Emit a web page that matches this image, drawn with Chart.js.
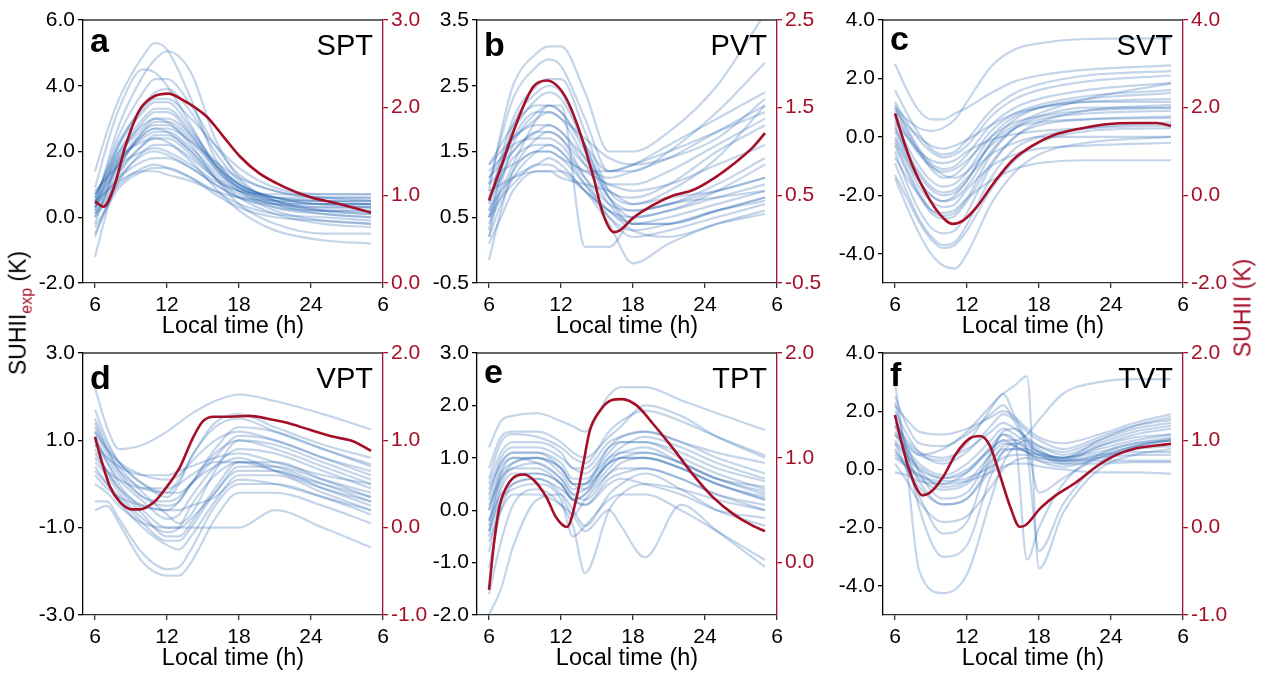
<!DOCTYPE html>
<html>
<head>
<meta charset="utf-8">
<script src="https://cdn.jsdelivr.net/npm/chart.js@4.4.1/dist/chart.umd.min.js"></script>
<style>
  body { margin: 0; background: #fff; width: 1262px; height: 678px; position: relative; overflow: hidden;
         font-family: "Liberation Sans", Arial, sans-serif; }
  .panel { position: absolute; width: 430px; }
  .row-1 { top: 0; height: 343px; }
  .row-2 { top: 333px; height: 342px; }
  .col-1 { left: 13px; }
  .col-2 { left: 407px; }
  .col-3 { left: 813px; }
  .ylab { position: absolute; white-space: nowrap; font-size: 23px; transform: translate(-50%, -50%) rotate(-90deg); }
  .ylab sub { font-size: 16px; color: #a50f28; }
</style>
</head>
<body>
<div class="panel row-1 col-1"><canvas id="chart-a"></canvas></div>
<div class="panel row-1 col-2"><canvas id="chart-b"></canvas></div>
<div class="panel row-1 col-3"><canvas id="chart-c"></canvas></div>
<div class="panel row-2 col-1"><canvas id="chart-d"></canvas></div>
<div class="panel row-2 col-2"><canvas id="chart-e"></canvas></div>
<div class="panel row-2 col-3"><canvas id="chart-f"></canvas></div>
<div class="ylab" style="left:20px; top:313px;">SUHII<sub>exp</sub> (K)</div>
<div class="ylab" style="left:1243px; top:308px; color:#a50f28;">SUHII (K)</div>

<script>
// Common x axis (local time, wraps to 6 the next morning)
const X_TICKS = [6, 12, 18, 24, 30];
const X_TICK_LABELS = ['6', '12', '18', '24', '6'];

// a - SPT
const SPT_HOURS = [6, 7, 8, 10, 11, 12, 14, 16, 18, 21, 25, 29];
const SPT_SITES = [
  [1.4, 2.6, 3.6, 4.9, 5.3, 5.1, 3.6, 1.8, 1.0, 0.4, 0.1, 0.0],
  [0.3, 1.6, 2.8, 4.3, 4.8, 5.05, 4.4, 2.4, 1.2, 0.5, 0.2, 0.1],
  [0.9, 2.2, 3.3, 4.5, 4.4, 4.0, 2.8, 1.6, 1.0, 0.6, 0.4, 0.4],
  [0.5, 1.5, 2.5, 3.8, 4.2, 4.2, 3.4, 2.2, 1.3, 0.8, 0.6, 0.6],
  [0.2, 1.2, 2.2, 3.4, 3.8, 3.9, 3.2, 2.0, 1.1, 0.5, 0.2, 0.1],
  [0.6, 1.4, 2.2, 3.2, 3.5, 3.5, 2.7, 1.6, 0.9, 0.5, 0.3, 0.3],
  [-0.2, 0.8, 1.8, 2.9, 3.2, 3.2, 2.5, 1.5, 0.8, 0.2, -0.1, -0.2],
  [0.7, 1.3, 2.0, 2.8, 3.0, 2.9, 2.3, 1.5, 0.9, 0.6, 0.5, 0.5],
  [-1.2, 0.2, 1.4, 2.6, 2.8, 2.8, 2.2, 1.2, 0.4, -0.2, -0.5, -0.5],
  [0.4, 1.0, 1.7, 2.4, 2.6, 2.6, 2.1, 1.4, 0.9, 0.6, 0.6, 0.6],
  [0.1, 0.7, 1.4, 2.2, 2.4, 2.4, 1.9, 1.2, 0.7, 0.4, 0.3, 0.3],
  [-0.5, 0.3, 1.1, 2.0, 2.2, 2.2, 1.7, 0.9, 0.2, -0.4, -0.7, -0.8],
  [0.8, 1.2, 1.6, 2.0, 2.1, 2.0, 1.6, 1.1, 0.8, 0.7, 0.7, 0.7],
  [0.3, 0.8, 1.2, 1.7, 1.8, 1.8, 1.5, 1.0, 0.6, 0.4, 0.4, 0.4],
  [-0.3, 0.3, 0.9, 1.4, 1.5, 1.5, 1.2, 0.7, 0.3, 0.0, -0.1, -0.2],
  [0.5, 0.8, 1.1, 1.4, 1.4, 1.3, 1.1, 0.8, 0.6, 0.5, 0.5, 0.5],
  [0.0, 0.5, 1.0, 1.5, 1.6, 1.5, 1.2, 0.8, 0.4, 0.1, 0.0, -0.1],
  [0.6, 1.4, 2.3, 3.3, 3.6, 3.6, 3.0, 2.2, 1.5, 0.9, 0.7, 0.7],
  [0.2, 0.9, 1.6, 2.5, 2.7, 2.7, 2.3, 1.7, 1.2, 0.8, 0.6, 0.5],
  [0.5, 1.1, 1.9, 2.7, 3.0, 3.0, 2.5, 1.6, 0.9, 0.3, 0.1, 0.0],
  [0.4, 1.2, 2.0, 3.0, 3.3, 3.3, 2.6, 1.7, 1.0, 0.6, 0.4, 0.4],
  [0.0, 0.8, 1.6, 2.5, 2.7, 2.6, 2.0, 1.3, 0.8, 0.4, 0.2, 0.2],
  [0.7, 1.2, 1.8, 2.3, 2.4, 2.3, 1.8, 1.2, 0.8, 0.5, 0.4, 0.3],
  [-0.6, 0.4, 1.3, 2.2, 2.5, 2.5, 2.0, 1.2, 0.6, 0.1, -0.2, -0.3],
  [0.3, 1.0, 1.7, 2.6, 2.9, 2.9, 2.4, 1.6, 1.0, 0.6, 0.5, 0.4],
  [0.1, 0.6, 1.2, 1.9, 2.0, 1.9, 1.5, 1.0, 0.6, 0.3, 0.2, 0.2]
];
const SPT_RED_HOURS = [6, 6.7, 7.5, 8.6, 9.7, 10.8, 12.1, 13.3, 15.3, 16.7, 18.1, 19.7, 21.7, 23.9, 26.1, 27.8, 29];
const SPT_RED = [0.93, 0.87, 1.06, 1.59, 1.97, 2.12, 2.16, 2.09, 1.90, 1.67, 1.44, 1.25, 1.10, 0.98, 0.91, 0.85, 0.80];
const SPT_LEFT_TICKS = [-2, 0, 2, 4, 6];
const SPT_RIGHT_TICKS = [0, 1, 2, 3];

// b - PVT
const PVT_HOURS = [6, 7, 8, 10, 11, 12, 14, 16, 18, 21, 25, 29];
const PVT_SITES = [
  [0.9, 1.8, 2.5, 3.0, 3.1, 3.1, 2.4, 1.5, 1.5, 1.8, 2.5, 3.6],
  [1.0, 1.7, 2.3, 2.8, 2.9, 2.8, 2.0, 1.2, 1.2, 1.5, 2.1, 2.85],
  [0.7, 1.4, 2.0, 2.5, 2.6, 2.6, 1.8, 0.9, 0.7, 0.9, 1.4, 2.2],
  [1.3, 1.6, 1.9, 2.2, 2.2, 2.1, 1.6, 1.2, 1.3, 1.6, 2.0, 2.4],
  [0.2, 1.0, 1.6, 2.1, 2.2, 2.1, 1.5, 0.8, 0.5, 0.6, 0.9, 1.3],
  [1.1, 1.4, 1.7, 1.9, 1.9, 1.8, 1.4, 1.0, 1.0, 1.2, 1.6, 2.0],
  [0.5, 1.1, 1.5, 1.8, 1.9, 1.8, 1.3, 0.7, 0.4, 0.4, 0.6, 0.8],
  [-0.15, 0.6, 1.2, 1.7, 1.8, 1.7, 1.1, 0.5, 0.2, 0.3, 0.5, 0.7],
  [1.2, 1.4, 1.6, 1.7, 1.7, 1.6, 1.2, 1.2, 1.3, 1.5, 1.8, 2.1],
  [0.8, 1.1, 1.4, 1.6, 1.6, 1.5, 1.1, 0.7, 0.6, 0.7, 0.9, 1.1],
  [0.4, 0.8, 1.2, 1.5, 1.5, 1.4, 1.0, 0.6, 0.3, 0.2, 0.4, 0.55],
  [1.0, 1.2, 1.3, 1.5, 1.5, 1.4, 1.2, 1.0, 0.9, 1.0, 1.3, 1.6],
  [0.6, 0.9, 1.1, 1.3, 1.4, 1.3, 0.9, 0.6, 0.4, 0.5, 0.7, 0.9],
  [0.1, 0.5, 0.9, 1.2, 1.2, 1.2, 0.9, 0.4, -0.2, 0.1, 0.4, 0.6],
  [0.9, 1.0, 1.1, 1.2, 1.2, 1.1, 1.0, 0.9, 0.7, 0.8, 0.9, 1.1],
  [0.5, 0.9, 1.3, 2.0, 2.2, 2.2, 0.05, 0.05, 0.5, 0.7, 0.8, 0.9],
  [1.3, 1.5, 1.7, 2.0, 2.1, 2.0, 1.7, 1.4, 1.3, 1.4, 1.7, 2.3],
  [0.3, 1.2, 1.9, 2.4, 2.5, 2.4, 1.6, 0.8, 0.4, 0.4, 0.6, 0.8],
  [0.6, 1.2, 1.7, 2.1, 2.1, 2.0, 1.4, 0.8, 0.6, 0.7, 1.0, 1.4],
  [1.1, 1.3, 1.5, 1.8, 1.8, 1.7, 1.3, 1.1, 1.2, 1.4, 1.8, 2.2],
  [0.2, 0.7, 1.1, 1.5, 1.6, 1.5, 1.0, 0.5, 0.3, 0.4, 0.6, 0.75],
  [0.8, 1.3, 1.8, 2.3, 2.4, 2.3, 1.6, 0.9, 0.8, 1.0, 1.5, 1.9],
  [0.5, 0.8, 1.0, 1.3, 1.3, 1.2, 0.9, 0.6, 0.5, 0.6, 0.8, 1.0]
];
const PVT_RED_HOURS = [6, 7.2, 8.6, 9.7, 10.8, 11.6, 12.5, 13.6, 14.7, 15.5, 16.4, 16.9, 18, 19.7, 21.4, 23, 24.7, 26.4, 28, 29];
const PVT_RED = [0.44, 0.90, 1.43, 1.74, 1.81, 1.76, 1.59, 1.21, 0.71, 0.29, 0.08, 0.10, 0.24, 0.39, 0.50, 0.56, 0.69, 0.86, 1.05, 1.21];
const PVT_LEFT_TICKS = [-0.5, 0.5, 1.5, 2.5, 3.5];
const PVT_RIGHT_TICKS = [-0.5, 0.5, 1.5, 2.5];

// c - SVT
const SVT_HOURS = [6, 7, 8, 9, 10, 11, 12, 14, 16, 18, 22, 29];
const SVT_SITES = [
  [1.0, 0.6, 0.3, 0.2, 0.3, 0.6, 1.2, 2.4, 3.0, 3.2, 3.35, 3.37],
  [2.5, 1.6, 0.9, 0.6, 0.6, 0.8, 1.0, 1.5, 1.9, 2.1, 2.3, 2.45],
  [1.6, 0.8, 0.1, -0.4, -0.6, -0.5, -0.1, 0.9, 1.5, 1.8, 2.1, 2.25],
  [1.1, 0.3, -0.4, -0.9, -1.1, -1.0, -0.6, 0.4, 1.0, 1.3, 1.6, 1.85],
  [0.6, -0.3, -1.0, -1.5, -1.7, -1.6, -1.2, 0.0, 0.7, 1.0, 1.2, 1.3],
  [0.9, 0.4, 0.0, -0.3, -0.4, -0.3, -0.1, 0.4, 0.8, 1.0, 1.2, 1.2],
  [0.2, -0.7, -1.5, -2.0, -2.2, -2.1, -1.7, -0.5, 0.3, 0.7, 1.0, 1.0],
  [-0.3, -1.2, -2.0, -2.6, -2.8, -2.7, -2.2, -0.9, 0.0, 0.4, 0.6, 0.7],
  [-1.3, -2.1, -2.9, -3.5, -3.8, -3.7, -3.2, -1.8, -0.8, -0.2, 0.2, 0.3],
  [-1.4, -2.4, -3.3, -4.0, -4.4, -4.5, -4.0, -2.3, -1.2, -0.6, -0.2, 0.0],
  [0.5, 0.0, -0.5, -0.8, -0.9, -0.8, -0.5, -0.1, 0.1, 0.2, 0.3, 0.4],
  [-0.1, -0.9, -1.7, -2.2, -2.4, -2.3, -1.8, -1.0, -0.6, -0.4, -0.3, -0.2],
  [0.3, -0.5, -1.2, -1.7, -1.9, -1.8, -1.4, -0.6, -0.2, 0.0, 0.0, 0.0],
  [-0.7, -1.4, -2.0, -2.5, -2.6, -2.5, -2.1, -1.5, -1.1, -0.9, -0.8, -0.8],
  [0.8, 0.1, -0.5, -1.0, -1.3, -1.4, -1.2, -0.3, 0.3, 0.5, 0.6, 0.65],
  [-0.5, -1.6, -2.5, -3.1, -3.3, -3.2, -2.6, -1.0, 0.0, 0.5, 0.9, 1.1],
  [1.2, 0.5, -0.1, -0.5, -0.7, -0.6, -0.3, 0.7, 1.3, 1.6, 1.9, 2.1],
  [0.0, -0.8, -1.5, -2.0, -2.2, -2.0, -1.5, -0.2, 0.4, 0.8, 1.3, 1.83],
  [0.4, -0.6, -1.3, -1.8, -2.0, -1.9, -1.5, -0.2, 0.6, 1.0, 1.3, 1.5],
  [1.0, 0.2, -0.5, -1.1, -1.4, -1.3, -0.9, 0.2, 0.8, 1.1, 1.4, 1.6],
  [-0.2, -1.1, -1.9, -2.5, -2.7, -2.6, -2.1, -0.6, 0.3, 0.6, 0.8, 0.9],
  [0.7, 0.0, -0.6, -1.0, -1.2, -1.1, -0.8, 0.0, 0.5, 0.7, 0.9, 1.0],
  [-0.9, -1.9, -2.8, -3.4, -3.7, -3.6, -3.0, -1.4, -0.4, 0.0, 0.3, 0.5]
];
const SVT_RED_HOURS = [6, 6.7, 7.5, 8.6, 9.7, 10.8, 11.7, 12.8, 14.2, 15.8, 17.5, 19.2, 21.4, 23.6, 25.8, 27.8, 29];
const SVT_RED = [1.87, 1.26, 0.65, 0.04, -0.42, -0.65, -0.57, -0.27, 0.27, 0.80, 1.14, 1.37, 1.52, 1.62, 1.65, 1.65, 1.58];
const SVT_LEFT_TICKS = [-4, -2, 0, 2, 4];
const SVT_RIGHT_TICKS = [-2, 0, 2, 4];

// d - VPT
const VPT_HOURS = [6, 7, 8, 10, 12, 13, 14, 16, 18, 21, 25, 29];
const VPT_SITES = [
  [2.2, 1.3, 0.8, 0.9, 1.2, 1.4, 1.6, 1.9, 2.05, 1.9, 1.6, 1.25],
  [1.7, 1.0, 0.5, 0.0, -0.3, 0.0, 0.6, 1.3, 1.5, 1.2, 0.8, 0.45],
  [1.3, 0.8, 0.4, -0.2, -0.7, -0.9, -0.7, 0.3, 1.0, 0.9, 0.5, 0.1],
  [1.1, 0.5, 0.0, -0.6, -1.0, -1.0, -0.8, -0.2, 0.4, 0.4, 0.1, -0.2],
  [0.9, 0.6, 0.4, 0.2, 0.2, 0.3, 0.4, 0.6, 0.7, 0.5, 0.2, 0.0],
  [0.6, 0.3, 0.1, -0.1, -0.1, 0.0, 0.2, 0.5, 0.5, 0.3, 0.0, -0.3],
  [0.4, 0.0, -0.4, -1.0, -1.4, -1.5, -1.2, -0.4, 0.2, 0.2, -0.2, -0.6],
  [-0.4, -0.4, -0.8, -1.6, -1.95, -1.9, -1.5, -0.5, 0.0, 0.0, -0.3, -0.7],
  [-0.6, -0.5, -0.9, -1.8, -2.1, -2.1, -1.8, -0.8, -0.2, -0.2, -0.5, -0.9],
  [1.5, 0.9, 0.5, 0.0, -0.2, -0.2, 0.0, 0.6, 1.1, 1.0, 0.6, 0.3],
  [0.8, 0.3, -0.1, -0.5, -0.6, -0.4, 0.0, 0.4, 0.6, 0.3, -0.1, -0.4],
  [0.2, -0.1, -0.3, -0.5, -0.6, -0.6, -0.5, -0.3, 0.1, 0.0, -0.3, -0.6],
  [0.5, 0.2, -0.2, -0.8, -1.1, -1.0, -0.5, 0.2, 0.5, 0.4, 0.0, -0.4],
  [1.0, 0.6, 0.2, -0.3, -0.4, -0.3, 0.0, 0.8, 1.3, 1.2, 0.8, 0.4],
  [0.0, -0.2, -0.5, -0.9, -1.0, -1.0, -1.0, -1.0, -1.0, -0.6, -1.0, -1.45],
  [1.2, 0.7, 0.3, -0.1, -0.2, 0.1, 0.6, 1.4, 1.6, 1.3, 0.9, 0.6],
  [1.4, 0.8, 0.3, -0.3, -0.5, -0.4, 0.0, 0.7, 1.0, 0.8, 0.4, 0.0],
  [0.7, 0.3, -0.1, -0.7, -1.2, -1.2, -0.9, -0.1, 0.5, 0.5, 0.1, -0.3],
  [0.9, 0.5, 0.1, -0.4, -0.8, -0.7, -0.3, 0.4, 0.8, 0.7, 0.3, -0.1],
  [0.3, 0.0, -0.3, -0.9, -1.3, -1.3, -1.0, -0.2, 0.3, 0.3, -0.1, -0.5],
  [1.2, 0.8, 0.5, 0.2, 0.1, 0.2, 0.5, 1.0, 1.2, 1.0, 0.6, 0.2]
];
const VPT_RED_HOURS = [6, 6.6, 7.25, 8.1, 9.1, 9.75, 10.9, 12, 13.1, 14.2, 15, 15.9, 17.25, 18.9, 20.3, 22, 23.9, 25.9, 27.5, 29];
const VPT_RED = [1.04, 0.74, 0.47, 0.29, 0.21, 0.21, 0.29, 0.47, 0.70, 1.04, 1.22, 1.27, 1.27, 1.28, 1.25, 1.20, 1.12, 1.04, 0.99, 0.88];
const VPT_LEFT_TICKS = [-3, -1, 1, 3];
const VPT_RIGHT_TICKS = [-1, 0, 1, 2];

// e - TPT
const TPT_HOURS = [6, 7, 8, 10, 12, 13, 14, 16, 17, 19, 22, 25, 29];
const TPT_SITES = [
  [1.2, 1.7, 1.8, 1.85, 1.7, 1.6, 1.5, 2.2, 2.35, 2.35, 2.1, 1.85, 1.53],
  [0.6, 1.3, 1.45, 1.4, 1.2, 1.0, 0.9, 1.5, 1.7, 1.9, 1.7, 1.4, 1.05],
  [0.3, 1.0, 1.2, 1.2, 1.0, 0.8, 0.7, 1.2, 1.4, 1.5, 1.3, 1.1, 0.9],
  [-0.3, 0.7, 1.0, 1.0, 0.8, 0.5, 0.5, 1.2, 1.3, 1.3, 1.0, 0.7, 0.4],
  [0.0, 0.8, 1.0, 0.9, 0.6, 0.3, 0.4, 0.9, 1.1, 1.1, 0.9, 0.6, 0.3],
  [-0.5, 0.4, 0.7, 0.7, 0.5, 0.2, 0.3, 0.8, 1.0, 1.0, 0.8, 0.5, 0.2],
  [-1.1, 0.0, 0.5, 0.6, 0.3, -0.1, 0.2, 0.7, 0.8, 0.8, 0.6, 0.3, 0.0],
  [0.4, 0.9, 1.1, 1.1, 0.8, 0.5, 0.4, 1.0, 1.2, 1.4, 1.2, 0.9, 0.6],
  [-2.0, -1.5, -0.7, 0.2, 0.3, 0.0, -0.3, 0.3, 0.5, 0.7, 0.4, 0.0, -0.3],
  [-1.6, -0.6, 0.1, 0.4, 0.1, -0.3, -1.2, 0.0, 0.3, 0.5, 0.4, 0.2, 0.0],
  [-0.2, 0.3, 0.5, 0.6, 0.4, 0.2, 0.1, 0.5, 0.6, 0.5, 0.3, 0.0, -0.15],
  [0.8, 1.4, 1.5, 1.5, 1.3, 1.1, 1.0, 1.4, 1.6, 2.0, 1.8, 1.4, 1.0],
  [-0.6, 0.0, 0.3, 0.3, 0.1, -0.1, -0.4, 0.0, -0.3, -0.9, 0.1, -0.4, -1.08],
  [-0.4, 0.2, 0.4, 0.5, 0.2, -0.5, -0.3, 0.2, 0.3, 0.3, 0.0, -0.4, -0.95],
  [0.1, 0.6, 0.9, 1.0, 0.7, 0.4, 0.5, 1.0, 1.1, 1.2, 0.9, 0.6, 0.45],
  [-0.2, 0.6, 0.8, 0.9, 0.6, 0.3, 0.2, 0.7, 0.9, 1.0, 0.8, 0.5, 0.2],
  [0.2, 0.9, 1.1, 1.1, 0.9, 0.6, 0.6, 1.1, 1.3, 1.3, 1.1, 0.8, 0.55],
  [-0.4, 0.5, 0.8, 0.8, 0.5, 0.2, 0.3, 0.9, 1.0, 1.1, 0.9, 0.6, 0.35],
  [0.5, 1.1, 1.3, 1.3, 1.1, 0.8, 0.8, 1.3, 1.4, 1.5, 1.3, 1.0, 0.7],
  [-0.8, 0.2, 0.6, 0.7, 0.5, 0.2, 0.1, 0.6, 0.7, 0.8, 0.6, 0.3, 0.1],
  [0.0, 0.7, 0.9, 1.0, 0.8, 0.5, 0.5, 0.9, 1.0, 1.0, 0.8, 0.5, 0.25]
];
const TPT_RED_HOURS = [6, 6.4, 6.9, 7.5, 8.3, 8.9, 9.7, 10.8, 11.6, 12.5, 13.3, 13.9, 14.4, 15.25, 16.2, 17.1, 18.3, 19.7, 21.4, 23, 24.7, 26.4, 28, 29];
const TPT_RED = [-0.26, 0.17, 0.55, 0.73, 0.83, 0.84, 0.79, 0.62, 0.43, 0.34, 0.62, 0.97, 1.26, 1.45, 1.55, 1.56, 1.50, 1.32, 1.08, 0.84, 0.62, 0.46, 0.35, 0.30];
const TPT_LEFT_TICKS = [-2, -1, 0, 1, 2, 3];
const TPT_RIGHT_TICKS = [0, 1, 2];

// f - TVT
const TVT_HOURS = [6, 7, 8, 10, 12, 14, 15, 16, 17, 18, 20, 23, 26, 29];
const TVT_SITES = [
  [1.2, 0.8, 0.5, 0.7, 1.3, 2.2, 2.6, 2.9, 3.2, -3.4, -1.5, 0.0, 0.5, 0.7],
  [2.5, 1.5, 0.9, 0.8, 1.2, 1.9, 2.2, 1.6, 0.6, -2.8, -1.2, 0.2, 0.8, 1.0],
  [3.0, 0.0, -3.45, -4.25, -3.6, -1.0, 0.2, 0.8, 1.0, 0.8, 0.6, 1.0, 1.4, 1.6],
  [2.3, 0.6, -1.3, -3.0, -2.6, -0.2, 0.6, 0.9, 0.7, 0.5, 0.4, 0.8, 1.1, 1.2],
  [0.9, 0.0, -0.9, -2.2, -1.8, 0.5, 1.2, 1.0, -3.1, -2.0, -0.5, 0.5, 0.9, 1.0],
  [0.6, 0.2, -0.2, -0.5, -0.1, 0.8, 1.2, 1.0, 1.2, 1.7, 2.6, 3.0, 3.1, 3.1],
  [1.5, 0.9, 0.5, 0.3, 0.9, 2.1, 2.6, 1.8, 1.0, 0.6, 0.4, 1.0, 1.5, 1.8],
  [1.0, 0.5, 0.1, -0.3, -0.1, 0.7, 1.0, 0.8, 0.6, 0.5, 0.2, 0.5, 0.8, 1.0],
  [0.4, 0.1, -0.2, -0.4, -0.3, 0.1, 0.4, 0.5, 0.5, 0.4, 0.3, 0.3, 0.3, 0.3],
  [-0.1, -0.2, -0.4, -0.5, -0.4, -0.1, 0.1, 0.2, 0.2, 0.1, 0.0, -0.1, -0.1, -0.15],
  [2.2, 1.7, 1.3, 1.2, 1.4, 1.8, 2.0, 1.8, 1.4, 1.1, 0.9, 1.2, 1.6, 1.9],
  [1.2, 0.6, 0.0, -0.6, -0.4, 0.5, 0.9, 0.8, 0.6, 0.3, 0.1, 0.4, 0.7, 0.8],
  [0.7, 0.0, -0.6, -1.2, -1.0, 0.0, 0.6, 0.7, 0.7, 0.5, 0.3, 0.5, 0.6, 0.6],
  [1.8, 0.8, -0.1, -1.0, -0.8, 0.6, 1.3, 1.4, 1.0, 0.7, 0.3, 0.8, 1.2, 1.4],
  [0.2, -0.4, -1.1, -1.8, -1.6, -0.6, 0.0, 0.3, 0.4, 0.3, 0.2, 0.2, 0.25, 0.25],
  [1.5, 0.5, -0.4, -1.2, -1.0, 0.2, 0.8, 0.9, 0.7, -0.8, -0.3, 0.4, 0.8, 1.05],
  [1.6, 1.0, 0.6, 0.4, 0.7, 1.3, 1.6, 1.4, 1.1, 0.8, 0.5, 0.9, 1.3, 1.5],
  [0.9, 0.4, 0.0, -0.3, 0.0, 0.7, 1.0, 1.0, 0.8, 0.6, 0.4, 0.6, 0.9, 1.1],
  [1.3, 0.7, 0.2, -0.2, 0.2, 1.0, 1.4, 1.2, 0.9, 0.6, 0.4, 0.7, 1.0, 1.2],
  [0.5, 0.1, -0.3, -0.7, -0.5, 0.3, 0.7, 0.7, 0.6, 0.4, 0.3, 0.4, 0.5, 0.5],
  [2.0, 1.2, 0.6, 0.2, 0.6, 1.5, 1.9, 1.7, 1.3, 1.0, 0.7, 1.1, 1.5, 1.7]
];
const TVT_RED_HOURS = [6, 6.5, 7.1, 7.8, 8.3, 9, 10, 11.1, 12.2, 13.1, 13.9, 14.7, 15.6, 16.4, 16.9, 18.1, 19.4, 21.1, 22.8, 24.4, 26.1, 27.8, 29];
const TVT_RED = [1.29, 1.0, 0.70, 0.45, 0.37, 0.41, 0.58, 0.85, 1.02, 1.05, 0.94, 0.62, 0.24, 0.01, 0.03, 0.22, 0.37, 0.52, 0.70, 0.83, 0.91, 0.94, 0.96];
const TVT_LEFT_TICKS = [-4, -2, 0, 2, 4];
const TVT_RIGHT_TICKS = [-1, 0, 1, 2];

// Styles
const FONT = '"Liberation Sans", Arial, sans-serif';
const RED = '#a50f28';
const BLUE = 'rgba(38, 98, 178, 0.27)';
const AXIS = '#333';

const PANELS = [
  { canvas: 'chart-a', letter: 'a', letterY: 32, name: 'SPT', hours: SPT_HOURS, sites: SPT_SITES,
    redHours: SPT_RED_HOURS, red: SPT_RED, left: [-2, 6], leftTicks: SPT_LEFT_TICKS, right: [0, 3], rightTicks: SPT_RIGHT_TICKS },
  { canvas: 'chart-b', letter: 'b', letterY: 36, name: 'PVT', hours: PVT_HOURS, sites: PVT_SITES,
    redHours: PVT_RED_HOURS, red: PVT_RED, left: [-0.5, 3.5], leftTicks: PVT_LEFT_TICKS, right: [-0.5, 2.5], rightTicks: PVT_RIGHT_TICKS },
  { canvas: 'chart-c', letter: 'c', letterY: 30, name: 'SVT', hours: SVT_HOURS, sites: SVT_SITES,
    redHours: SVT_RED_HOURS, red: SVT_RED, left: [-5, 4], leftTicks: SVT_LEFT_TICKS, right: [-2, 4], rightTicks: SVT_RIGHT_TICKS },
  { canvas: 'chart-d', letter: 'd', letterY: 36, name: 'VPT', hours: VPT_HOURS, sites: VPT_SITES,
    redHours: VPT_RED_HOURS, red: VPT_RED, left: [-3, 3], leftTicks: VPT_LEFT_TICKS, right: [-1, 2], rightTicks: VPT_RIGHT_TICKS },
  { canvas: 'chart-e', letter: 'e', letterY: 30, name: 'TPT', hours: TPT_HOURS, sites: TPT_SITES,
    redHours: TPT_RED_HOURS, red: TPT_RED, left: [-2, 3], leftTicks: TPT_LEFT_TICKS, right: [-0.5, 2], rightTicks: TPT_RIGHT_TICKS },
  { canvas: 'chart-f', letter: 'f', letterY: 33, name: 'TVT', hours: TVT_HOURS, sites: TVT_SITES,
    redHours: TVT_RED_HOURS, red: TVT_RED, left: [-5, 4], leftTicks: TVT_LEFT_TICKS, right: [-1, 2], rightTicks: TVT_RIGHT_TICKS }
];

const toPoints = (hours, values) => hours.map((h, i) => ({ x: h, y: values[i] }));
const fixTicks = values => axis => { axis.ticks = values.map(v => ({ value: v })); };

// Top frame line, panel letter and panel name
const panelText = {
  id: 'panelText',
  afterDraw(chart, args, opts) {
    const { ctx, chartArea: a } = chart;
    ctx.save();
    ctx.strokeStyle = AXIS;
    ctx.lineWidth = 1.3;
    ctx.beginPath();
    ctx.moveTo(a.left, a.top);
    ctx.lineTo(a.right, a.top);
    ctx.stroke();
    ctx.fillStyle = '#000';
    ctx.textBaseline = 'alphabetic';
    ctx.textAlign = 'left';
    ctx.font = 'bold 34px ' + FONT;
    ctx.fillText(opts.letter, a.left + 7, a.top + opts.letterY);
    ctx.textAlign = 'right';
    ctx.font = '29px ' + FONT;
    ctx.fillText(opts.name, a.right - 10, a.top + 35);
    ctx.restore();
  }
};

const yScale = (range, ticks, position, color) => ({
  type: 'linear',
  position: position,
  min: range[0],
  max: range[1],
  afterBuildTicks: fixTicks(ticks),
  afterFit: s => { s.width = position === 'left' ? 70 : 60; },
  ticks: { color: color, font: { family: FONT, size: 21 }, padding: 3, callback: v => v.toFixed(1) },
  grid: { drawOnChartArea: false, tickLength: 5, color: color, lineWidth: 1.3 },
  border: { color: color, width: 1.3 }
});

PANELS.forEach(p => {
  const datasets = [{
    data: toPoints(p.redHours, p.red),
    yAxisID: 'y1',
    borderColor: RED,
    borderWidth: 2.6
  }];
  p.sites.forEach(site => {
    datasets.push({ data: toPoints(p.hours, site), yAxisID: 'y', borderColor: BLUE, borderWidth: 2.2 });
  });

  new Chart(document.getElementById(p.canvas), {
    type: 'line',
    data: { datasets },
    options: {
      responsive: true,
      maintainAspectRatio: false,
      animation: false,
      events: [],
      layout: { padding: { top: 20, left: 0, right: 0, bottom: 0 } },
      elements: {
        point: { radius: 0 },
        line: { fill: false, cubicInterpolationMode: 'monotone' }
      },
      plugins: {
        legend: { display: false },
        tooltip: { enabled: false },
        panelText: { letter: p.letter, letterY: p.letterY, name: p.name }
      },
      scales: {
        x: {
          type: 'linear',
          min: 5,
          max: 30,
          afterBuildTicks: fixTicks(X_TICKS),
          afterFit: s => { s.height = 60; },
          ticks: {
            color: '#000', font: { family: FONT, size: 21 }, padding: 5, maxRotation: 0, autoSkip: false,
            callback: v => X_TICK_LABELS[X_TICKS.indexOf(v)]
          },
          grid: { drawOnChartArea: false, tickLength: 5, color: AXIS, lineWidth: 1.3 },
          border: { color: AXIS, width: 1.3 },
          title: { display: true, text: 'Local time (h)', color: '#000', font: { family: FONT, size: 23.5 }, padding: { top: 0, bottom: 2 } }
        },
        y: yScale(p.left, p.leftTicks, 'left', '#000'),
        y1: yScale(p.right, p.rightTicks, 'right', RED)
      }
    },
    plugins: [panelText]
  });
});
</script>
</body>
</html>
